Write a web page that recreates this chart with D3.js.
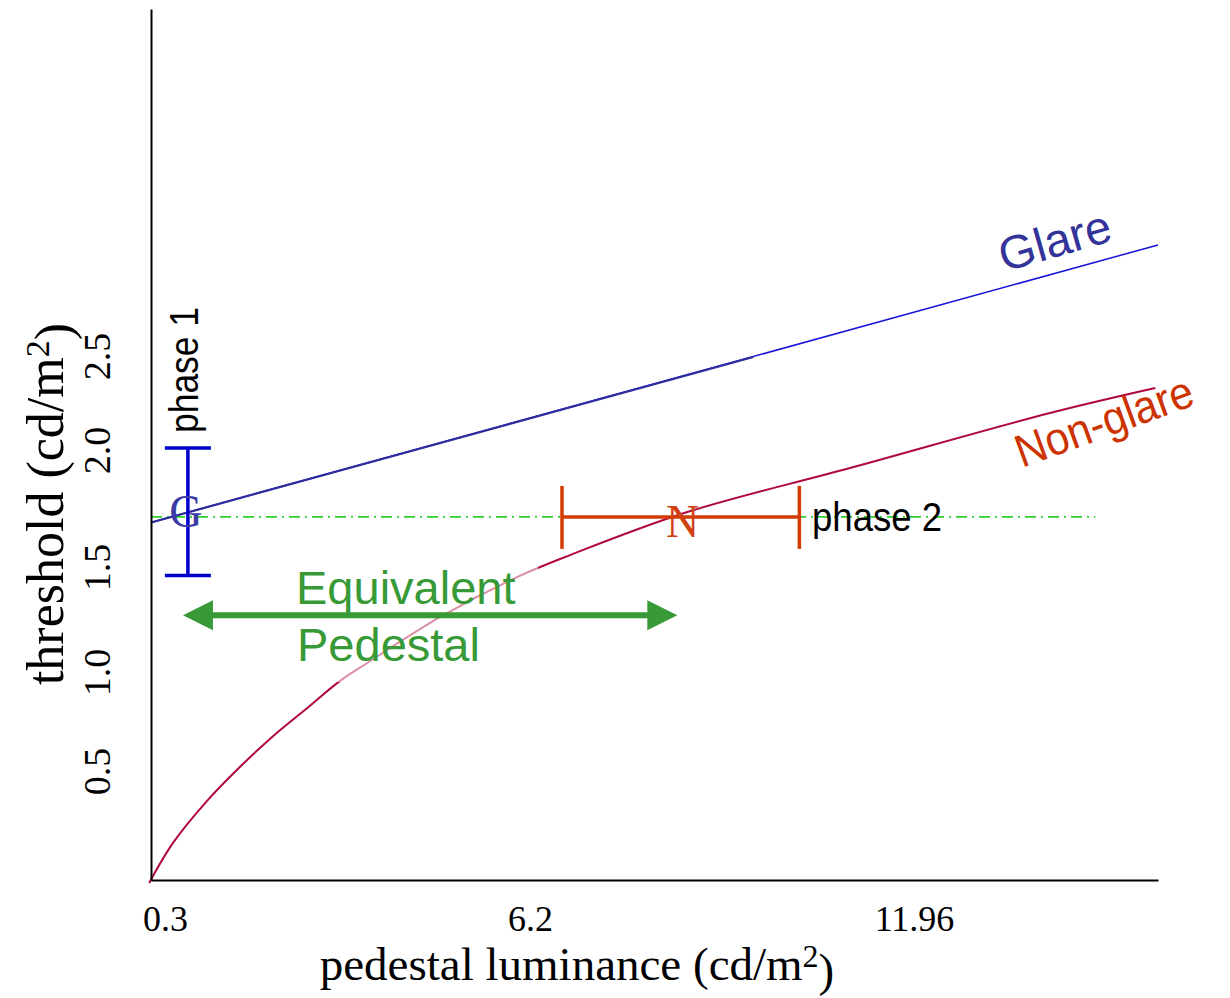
<!DOCTYPE html>
<html lang="en">
    <head>
        <meta charset="utf-8">
        <title>Equivalent Pedestal</title>
        <script src="https://d3js.org/d3.v7.min.js"></script>
        <style type="text/css">
            body { margin: 0; background: #fff; }
            .serif { font-family: "Liberation Serif", "Times New Roman", serif; }
            .sans { font-family: "Liberation Sans", Arial, sans-serif; }
        </style>
    </head>
    <body>
        <script type="text/javascript">

            const w = 1230;
            const h = 998;

            // tick labels (placed by hand in the original, hence the piecewise scales)
            const xTickVals = [0.3, 6.2, 11.96];
            const yTickVals = [0.5, 1.0, 1.5, 2.0, 2.5];
            const xExtent = [0.07, 15.62];
            const yExtent = [-0.05, 4.35];

            // series [pedestal, threshold]
            const glare = [[0.07, 1.69], [15.62, 3.092]];
            const glareFit = [[0.07, 1.69], [9.55, 2.495]];
            const nonGlare = [[0.04, -0.065], [0.43, 0.137], [0.98, 0.349], [1.51, 0.52], [2.05, 0.677],
                              [2.60, 0.818], [3.13, 0.955], [3.57, 1.043], [4.75, 1.262], [5.99, 1.452],
                              [6.80, 1.551], [8.56, 1.735], [11.0, 1.923], [14.0, 2.197], [15.58, 2.33]];
            const refLine = [[0.07, 1.714], [14.68, 1.714]];

            // error bars and arrow
            const gBar = {x: 0.67, lo: 1.46, hi: 2.01};
            const nBar = {y: 1.714, lo: 6.68, hi: 10.24};
            const arrow = {y: 1.27, from: 0.59, to: 8.41};

            const xScale = d3.scaleLinear()
                             .domain([xExtent[0], ...xTickVals, xExtent[1]])
                             .range([151, 165, 530, 914, 1158]);

            const yScale = d3.scaleLinear()
                             .domain([yExtent[0], ...yTickVals, yExtent[1]])
                             .range([880, 771, 672, 567, 450, 356, 9]);

            const svg = d3.select("body")
                          .append("svg")
                          .attr("width", w)
                          .attr("height", h);

            const line = d3.line()
                           .x(d => xScale(d[0]))
                           .y(d => yScale(d[1]));

            // reference (dash-dot) line
            svg.append("path")
               .attr("d", line(refLine))
               .attr("fill", "none")
               .attr("stroke", "#2ed02e")
               .attr("stroke-width", 1.8)
               .attr("stroke-dasharray", "11,5,2,5");

            // glare line
            svg.append("path")
               .attr("d", line(glare))
               .attr("fill", "none")
               .attr("stroke", "#1414dc")
               .attr("stroke-width", 1.5);
            svg.append("path")
               .attr("d", line(glareFit))
               .attr("fill", "none")
               .attr("stroke", "#2e2e9c")
               .attr("stroke-width", 2.2);

            // non-glare curve
            const curveLine = d3.line()
                                .x(d => xScale(d[0]))
                                .y(d => yScale(d[1]))
                                .curve(d3.curveCatmullRom.alpha(0.5));
            svg.append("path")
               .attr("d", curveLine(nonGlare))
               .attr("fill", "none")
               .attr("stroke", "#b0083a")
               .attr("stroke-width", 2);

            // faint box behind the annotation
            svg.append("rect")
               .attr("x", 278).attr("y", 563)
               .attr("width", 260).attr("height", 119)
               .attr("fill", "#fff")
               .attr("opacity", 0.55);

            // axes
            const bottomAxis = d3.axisBottom(xScale)
                                 .tickValues(xTickVals)
                                 .tickFormat(d => String(d))
                                 .tickSize(0)
                                 .tickSizeOuter(0);
            const gx = svg.append("g")
                          .attr("transform", "translate(0,880)")
                          .call(bottomAxis);
            gx.select(".domain").attr("stroke", "#000").attr("stroke-width", 2);
            gx.selectAll("text")
              .attr("class", "serif")
              .attr("y", 51).attr("dy", 0)
              .attr("fill", "#000")
              .style("font-size", "36px");

            const leftAxis = d3.axisLeft(yScale)
                               .tickValues(yTickVals)
                               .tickFormat(d3.format(".1f"))
                               .tickSize(0)
                               .tickSizeOuter(0);
            const gy = svg.append("g")
                          .attr("transform", "translate(151,0)")
                          .call(leftAxis);
            gy.select(".domain").attr("stroke", "#000").attr("stroke-width", 2);
            gy.selectAll("text")
              .attr("class", "serif")
              .attr("x", 0).attr("dy", 0)
              .attr("transform", "translate(-41,0) rotate(-90)")
              .attr("text-anchor", "middle")
              .attr("fill", "#000")
              .style("font-size", "38px");

            // axis titles
            const xTitle = svg.append("text")
                              .attr("class", "serif")
                              .attr("x", 577).attr("y", 980)
                              .attr("text-anchor", "middle")
                              .style("font-size", "47px");
            xTitle.append("tspan").text("pedestal luminance (cd/m");
            xTitle.append("tspan").attr("dy", "-0.42em").style("font-size", "32px").text("2");
            xTitle.append("tspan").attr("dy", "0.42em").text(")");

            const yTitle = svg.append("text")
                              .attr("class", "serif")
                              .attr("transform", "translate(63,504) rotate(-90)")
                              .attr("text-anchor", "middle")
                              .style("font-size", "52px");
            yTitle.append("tspan").text("threshold (cd/m");
            yTitle.append("tspan").attr("dy", "-0.42em").style("font-size", "34px").text("2");
            yTitle.append("tspan").attr("dy", "0.42em").text(")");

            // G error bar (vertical)
            const gColor = "#0000cc";
            const gx0 = xScale(gBar.x);
            svg.append("line")
               .attr("x1", gx0).attr("x2", gx0)
               .attr("y1", yScale(gBar.lo)).attr("y2", yScale(gBar.hi))
               .attr("stroke", gColor).attr("stroke-width", 3.5);
            [gBar.lo, gBar.hi].forEach(v => {
                svg.append("line")
                   .attr("x1", gx0 - 23).attr("x2", gx0 + 23)
                   .attr("y1", yScale(v)).attr("y2", yScale(v))
                   .attr("stroke", gColor).attr("stroke-width", 3.5);
            });
            svg.append("text")
               .attr("class", "serif")
               .attr("x", gx0 - 2)
               .attr("y", yScale((gBar.lo + gBar.hi) / 2) + 15)
               .attr("text-anchor", "middle")
               .attr("fill", "#3b3ba6")
               .style("font-size", "46px")
               .text("G");

            // N error bar (horizontal)
            const nColor = "#d23c00";
            const ny0 = yScale(nBar.y);
            svg.append("line")
               .attr("x1", xScale(nBar.lo)).attr("x2", xScale(nBar.hi))
               .attr("y1", ny0).attr("y2", ny0)
               .attr("stroke", nColor).attr("stroke-width", 3.5);
            [nBar.lo, nBar.hi].forEach(v => {
                svg.append("line")
                   .attr("x1", xScale(v)).attr("x2", xScale(v))
                   .attr("y1", ny0 - 31).attr("y2", ny0 + 32)
                   .attr("stroke", nColor).attr("stroke-width", 3.5);
            });
            svg.append("text")
               .attr("class", "serif")
               .attr("x", (xScale(nBar.lo) + xScale(nBar.hi)) / 2 + 2)
               .attr("y", ny0 + 20)
               .attr("text-anchor", "middle")
               .attr("fill", "#d04010")
               .style("font-size", "46px")
               .text("N");

            // phase labels
            svg.append("text")
               .attr("class", "sans")
               .attr("transform", "translate(198,433) rotate(-90)")
               .attr("textLength", 126)
               .attr("lengthAdjust", "spacingAndGlyphs")
               .style("font-size", "40px")
               .text("phase 1");
            svg.append("text")
               .attr("class", "sans")
               .attr("x", 812).attr("y", 531)
               .attr("textLength", 130)
               .attr("lengthAdjust", "spacingAndGlyphs")
               .style("font-size", "40px")
               .text("phase 2");

            // equivalent pedestal arrow
            const aColor = "#379a37";
            const ay = yScale(arrow.y);
            const ax1 = xScale(arrow.from), ax2 = xScale(arrow.to);
            svg.append("line")
               .attr("x1", ax1 + 20).attr("x2", ax2 - 20)
               .attr("y1", ay).attr("y2", ay)
               .attr("stroke", aColor).attr("stroke-width", 6);
            svg.append("path")
               .attr("d", `M${ax1},${ay}L${ax1 + 30},${ay - 15}L${ax1 + 30},${ay + 15}Z`)
               .attr("fill", aColor);
            svg.append("path")
               .attr("d", `M${ax2},${ay}L${ax2 - 30},${ay - 15}L${ax2 - 30},${ay + 15}Z`)
               .attr("fill", aColor);

            svg.append("text")
               .attr("class", "sans")
               .attr("x", 296).attr("y", 604)
               .attr("fill", aColor)
               .style("font-size", "47px")
               .text("Equivalent");
            svg.append("text")
               .attr("class", "sans")
               .attr("x", 297).attr("y", 661)
               .attr("fill", aColor)
               .style("font-size", "47px")
               .text("Pedestal");

            // series labels
            svg.append("text")
               .attr("class", "sans")
               .attr("transform", "translate(1004,272) rotate(-16)")
               .attr("fill", "#333399")
               .style("font-size", "47px")
               .text("Glare");
            svg.append("text")
               .attr("class", "sans")
               .attr("transform", "translate(1022,468) rotate(-20)")
               .attr("fill", "#cc3300")
               .attr("textLength", 186)
               .attr("lengthAdjust", "spacingAndGlyphs")
               .style("font-size", "46px")
               .text("Non-glare");

        </script>
    </body>
</html>
